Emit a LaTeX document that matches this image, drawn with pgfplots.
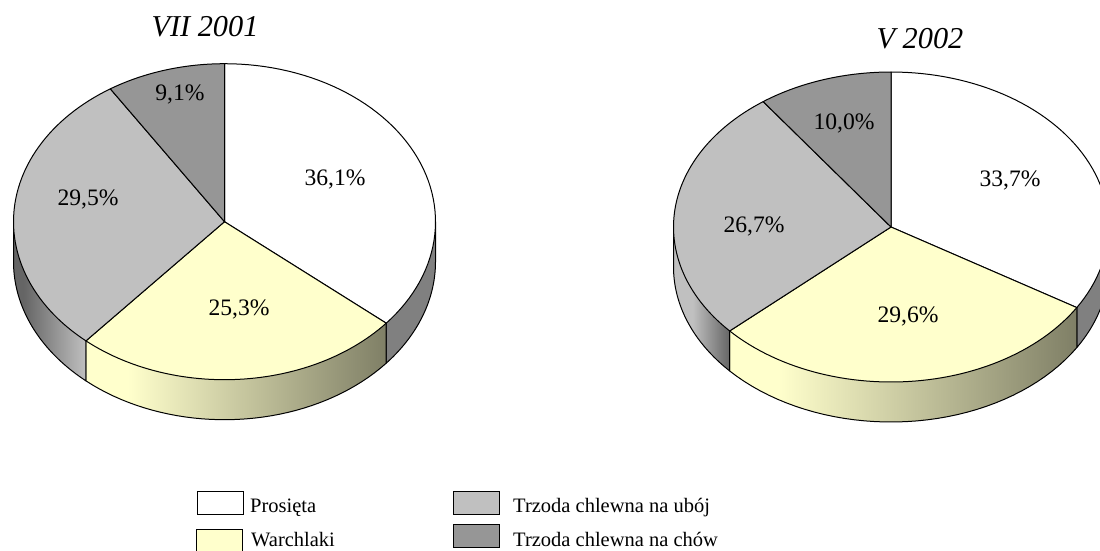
\documentclass[border=0pt]{standalone}
\usepackage{fontspec}
\setmainfont{Liberation Serif}
\usepackage{pgfplots}
\usepackage{pgfplotstable}
\pgfplotsset{compat=1.18}

\definecolor{yel}{HTML}{FFFFCC}
\definecolor{gr}{HTML}{C0C0C0}
\definecolor{dk}{HTML}{969696}
\definecolor{wallgray}{HTML}{808080}
\definecolor{olive}{HTML}{7F7F66}
\definecolor{wdark}{HTML}{656565}

% pgf shadings: 25bp..75bp is the path's bounding box
\pgfdeclarehorizontalshading{yelwall}{100bp}{color(0bp)=(yel); color(32bp)=(yel); color(75bp)=(olive); color(100bp)=(olive)}
\pgfdeclarehorizontalshading{grwallA}{100bp}{color(0bp)=(wdark); color(32bp)=(wdark); color(75bp)=(gr); color(100bp)=(gr)}
\pgfdeclarehorizontalshading{grwallB}{100bp}{color(0bp)=(gr); color(42bp)=(gr); color(75bp)=(wdark); color(100bp)=(wdark)}

\pgfplotstableread{
slice    vii2001 v2002
Prosieta 36.1    33.7
Warchlaki 25.3   29.6
Uboj     29.5    26.7
Chow     9.1     10.0
}\shares

% cumulative slice ends, in degrees clockwise from the top
\newcommand\sliceangles[2]{%
  \pgfplotstablegetelem{0}{#1}\of\shares \pgfmathsetmacro\sa{\pgfplotsretval*3.6}%
  \pgfplotstablegetelem{1}{#1}\of\shares \pgfmathsetmacro\sb{\sa+\pgfplotsretval*3.6}%
  \pgfplotstablegetelem{2}{#1}\of\shares \pgfmathsetmacro\sc{\sb+\pgfplotsretval*3.6}%
  \global\expandafter\let\csname #2a\endcsname\sa
  \global\expandafter\let\csname #2b\endcsname\sb
  \global\expandafter\let\csname #2c\endcsname\sc
}
\sliceangles{vii2001}{P}
\sliceangles{v2002}{Q}

% #1 style, #2 cx, #3 cy, #4 rx, #5 ry, #6 from, #7 to
\newcommand\topface[7]{%
  \addplot[#1, draw=black, line width=1pt, line join=round, domain=#6:#7, samples=60]
    ({#2+#4*sin(x)},{#3-#5*cos(x)}) -- (axis cs:#2,#3) -- cycle;
}
% wall: lower arc, closed across the chord that the top face covers; #8 depth
\newcommand\wall[8]{%
  \addplot[#1, draw=black, line width=1pt, line join=round, domain=#6:#7, samples=40]
    ({#2+#4*sin(x)},{#3+#8-#5*cos(x)})
    -- (axis cs:{#2+#4*sin(#7)},{#3-#5*cos(#7)})
    -- (axis cs:{#2+#4*sin(#6)},{#3-#5*cos(#6)}) -- cycle;
}
\newcommand\swatch[5]{%
  \addplot[draw=black, line width=1pt, fill=#1] coordinates {(#2,#3) (#4,#3) (#4,#5) (#2,#5)} -- cycle;
}

\begin{document}
\begin{tikzpicture}
\path[use as bounding box] (0,0) rectangle (1100pt,550pt);
\begin{axis}[
  at={(0,0)}, anchor=south west,
  scale only axis,
  width=1100pt, height=550pt,
  xmin=0, xmax=1100, ymin=0, ymax=550,
  y dir=reverse,
  axis lines=none,
  clip=true,
  every axis plot/.append style={no markers},
]
% VII 2001
\wall{fill=wallgray}{224.5}{221.7}{211}{158}{90}{\Pa}{40}
\wall{shade, shading=yelwall}{224.5}{221.7}{211}{158}{\Pa}{\Pb}{40}
\wall{shade, shading=grwallA}{224.5}{221.7}{211}{158}{\Pb}{270}{40}
\topface{fill=white}{224.5}{221.7}{211}{158}{0}{\Pa}
\topface{fill=yel}{224.5}{221.7}{211}{158}{\Pa}{\Pb}
\topface{fill=gr}{224.5}{221.7}{211}{158}{\Pb}{\Pc}
\topface{fill=dk}{224.5}{221.7}{211}{158}{\Pc}{360}
% V 2002
\wall{fill=wallgray}{891}{227}{217.5}{155}{90}{\Qa}{40}
\wall{shade, shading=yelwall}{891}{227}{217.5}{155}{\Qa}{\Qb}{40}
\wall{shade, shading=grwallB}{891}{227}{217.5}{155}{\Qb}{270}{40}
\topface{fill=white}{891}{227}{217.5}{155}{0}{\Qa}
\topface{fill=yel}{891}{227}{217.5}{155}{\Qa}{\Qb}
\topface{fill=gr}{891}{227}{217.5}{155}{\Qb}{\Qc}
\topface{fill=dk}{891}{227}{217.5}{155}{\Qc}{360}
% legend
\swatch{white}{197}{491}{243}{514}
\swatch{yel}{196}{529}{242}{552}
\swatch{gr}{453}{491}{499}{514}
\swatch{dk}{453}{524}{499}{547}

\path[font=\fontsize{23.6}{28}\selectfont, every node/.style={anchor=base}]
  (axis cs:335,185) node {36,1\%}
  (axis cs:239,315) node {25,3\%}
  (axis cs:88,205) node {29,5\%}
  (axis cs:180,100) node {9,1\%}
  (axis cs:1010,186) node {33,7\%}
  (axis cs:908,322) node {29,6\%}
  (axis cs:754,232) node {26,7\%}
  (axis cs:844,129) node {10,0\%};
\node[anchor=base, font=\fontsize{30.3}{36}\selectfont\itshape] at (axis cs:205,36) {VII 2001};
\node[anchor=base, font=\fontsize{30.3}{36}\selectfont\itshape] at (axis cs:920,48) {V 2002};
\path[font=\fontsize{20.5}{24}\selectfont, every node/.style={anchor=base west, inner sep=0pt}]
  (axis cs:250,512) node {Prosięta}
  (axis cs:251,546) node {Warchlaki}
  (axis cs:513,512) node {Trzoda chlewna na ubój}
  (axis cs:513,546) node {Trzoda chlewna na chów};
\end{axis}
\end{tikzpicture}
\end{document}
